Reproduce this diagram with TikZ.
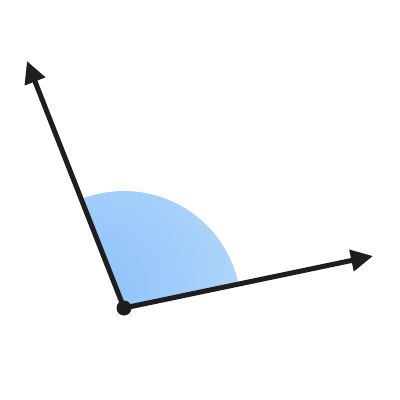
\documentclass[tikz,border=0pt]{standalone}
\usetikzlibrary{arrows.meta}
\definecolor{ink}{HTML}{1E1E1E}
\definecolor{blueA}{HTML}{8CC2F9}
\definecolor{blueB}{HTML}{D2E7FC}
\begin{document}
\begin{tikzpicture}[x=1pt,y=-1pt,
  ray/.style={draw=ink,line width=5pt,-{Triangle[length=22pt,width=21pt]}},
  vtx/.style={circle,fill=ink,inner sep=0pt,minimum size=15pt}]
\useasboundingbox (0,0) rectangle (400,400);
\fill[white] (0,0) rectangle (400,400);
\coordinate (V) at (124,308);
\begin{scope}
\clip (V) -- ++(11.8:117 and -117) arc[start angle=-11.8,end angle=-111.4,radius=117] -- cycle;
\shade[inner color=blueA,outer color=blueB] ([xshift=-30pt,yshift=20pt]V) circle (300);
\end{scope}
\node[vtx] (v) at (V) {};
\coordinate (A) at (27,61);
\coordinate (B) at (373,256);
\draw[ray] (v.center) -- (A);
\draw[ray] (v.center) -- (B);
\end{tikzpicture}
\end{document}
